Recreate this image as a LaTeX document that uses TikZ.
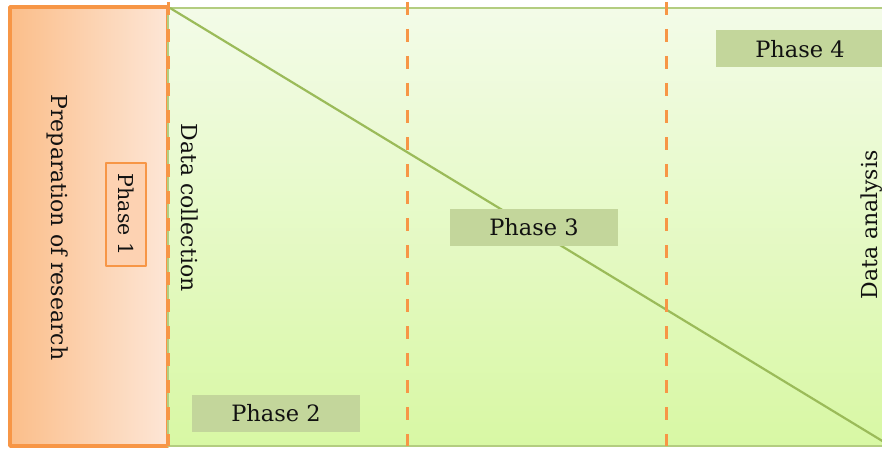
\documentclass[tikz,border=0pt]{standalone}
\usepackage{fontspec}
\setmainfont{DejaVu Serif}
\definecolor{ink}{HTML}{111111}
\definecolor{prepedge}{HTML}{F79646}
\definecolor{prepdark}{HTML}{FBBE8A}
\definecolor{preplight}{HTML}{FDE6D6}
\definecolor{fieldtop}{HTML}{F3FBE8}
\definecolor{fieldbottom}{HTML}{D8F8A4}
\definecolor{fieldedge}{HTML}{B3CD80}
\definecolor{slope}{HTML}{9BBB59}
\definecolor{tagfill}{HTML}{C3D69B}
\definecolor{tagone}{HTML}{FDD2B2}

\tikzset{
  phasetag/.style={fill=tagfill, minimum width=168pt, minimum height=37pt,
    inner sep=0pt, text=ink, font=\fontsize{22.5}{26}\selectfont},
  sidelabel/.style={text=ink, font=\fontsize{22}{26}\selectfont, inner sep=0pt},
  divider/.style={prepedge, line width=3pt, dash pattern=on 13pt off 14pt}
}

\begin{document}
\begin{tikzpicture}[x=1pt, y=1pt, line join=round]
  \useasboundingbox (0,0) rectangle (882,448);
  \clip (0,0) rectangle (882,448);

  \coordinate (P0) at (10,2);
  \coordinate (P1) at (168,441);
  \coordinate (F0) at (168,2);
  \coordinate (F1) at (892,440);
  \coordinate (S0) at (170,440);
  \coordinate (S1) at (884,6);

  \shade[left color=prepdark, right color=preplight] (P0) rectangle (P1);
  \draw[prepedge, line width=3.5pt] (P0) rectangle (P1);

  \shade[top color=fieldtop, bottom color=fieldbottom] (F0) rectangle (F1);
  \draw[fieldedge, line width=2pt] (F0) rectangle (F1);

  \draw[slope, line width=2.2pt] (S0) -- (S1);

  \foreach \x in {168,407,666}
    \draw[divider] (\x,446) -- (\x,2);

  \node[sidelabel, rotate=-90] (prep) at (58,220.5) {Preparation of research};
  \node[draw=prepedge, line width=1.6pt, fill=tagone, minimum width=103pt,
    minimum height=40pt, inner sep=0pt, rotate=-90, text=ink,
    font=\fontsize{20.5}{24}\selectfont] (phase1) at (126,233.5) {Phase 1};

  \node[sidelabel, rotate=-90] (collect) at (190,240.5) {Data collection};
  \node[phasetag] (phase2) at (276,34.5) {Phase 2};

  \node[phasetag] (phase3) at (534,220.5) {Phase 3};

  \node[phasetag] (phase4) at (800,399) {Phase 4};
  \node[sidelabel, rotate=90] (analysis) at (872,223) {Data analysis};
\end{tikzpicture}
\end{document}
